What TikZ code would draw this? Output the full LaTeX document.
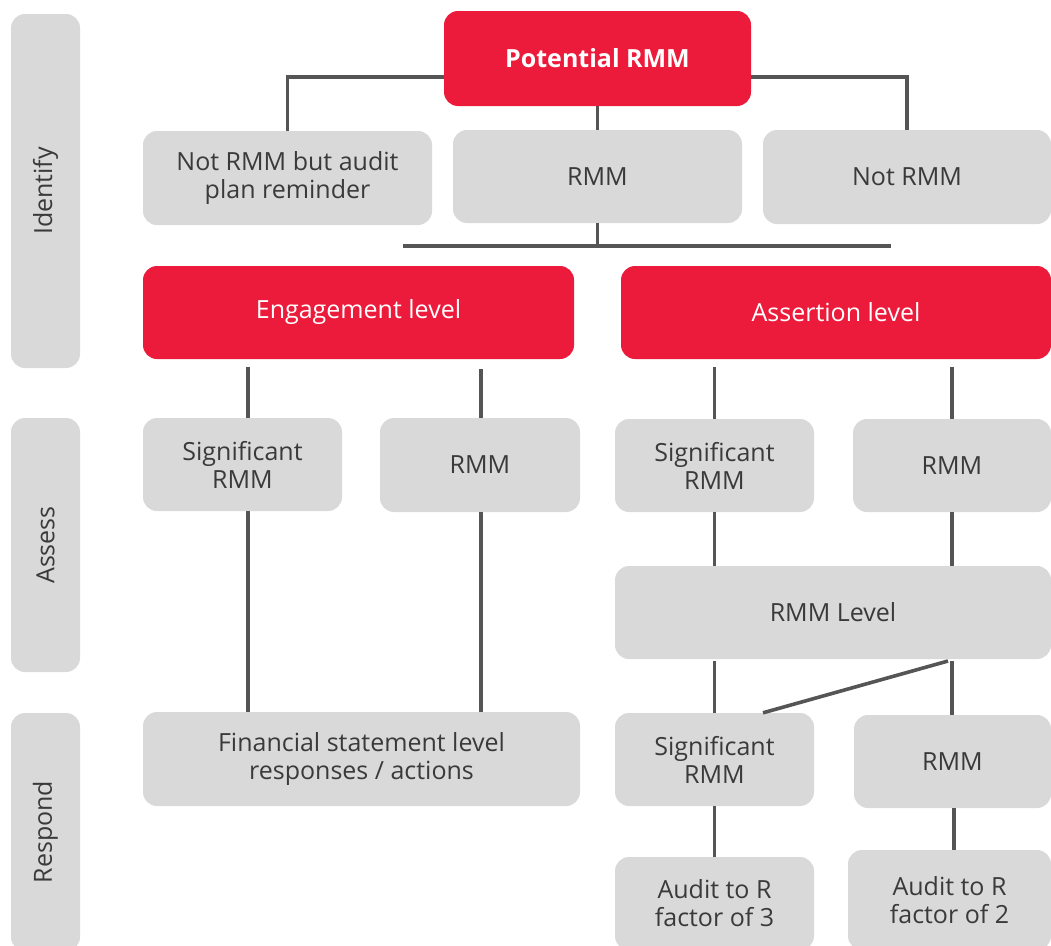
\documentclass[tikz,border=0pt]{standalone}
\usepackage{fontspec}
\setmainfont{Open Sans}
\usetikzlibrary{calc}
\definecolor{riskred}{HTML}{ED1B3B}
\definecolor{boxgray}{HTML}{D9D9D9}
\definecolor{inkgray}{HTML}{3A3A3A}
\definecolor{linegray}{HTML}{555555}
\tikzset{
  basebox/.style={rounded corners=14pt, inner sep=0pt, align=center,
    font=\fontsize{25}{28}\selectfont},
  graybox/.style={basebox, fill=boxgray, text=inkgray},
  redbox/.style={basebox, fill=riskred, text=white},
  phase/.style={graybox},
  link/.style={draw=linegray, line width=3.6pt}
}
\newcommand{\boxat}[6]{%
  \node[#1, minimum width=#4pt, minimum height=#5pt] (#2) at (#3) {#6};}
\begin{document}
\begin{tikzpicture}[x=1pt,y=-1pt]
\useasboundingbox (0,0) rectangle (1051,945);
\begin{scope}
\clip (0,0) rectangle (1051,945);
% phase bands on the left
\boxat{phase}{identify}{45.5,191}{69}{354}{\rotatebox{90}{Identify}}
\boxat{phase}{assess}{45.5,545}{69}{254}{\rotatebox{90}{Assess}}
\boxat{phase}{respond}{45.5,832}{69}{238}{\rotatebox{90}{Respond}}
% identify
\boxat{redbox}{pot}{597.5,58.5}{307}{95}{\bfseries Potential RMM}
\boxat{graybox}{nrm}{287.5,178}{289}{94}{Not RMM but audit\\plan reminder}
\boxat{graybox}{rmm}{597.5,176.5}{289}{93}{RMM}
\boxat{graybox}{notrmm}{907,177}{288}{94}{Not RMM}
% levels
\boxat{redbox}{eng}{358.5,312.5}{431}{93}{Engagement level}
\boxat{redbox}{asr}{836,312.5}{430}{93}{Assertion level}
% assess
\boxat{graybox}{sigE}{242.5,464.5}{199}{93}{Significant\\RMM}
\boxat{graybox}{rmmE}{480,465}{200}{94}{RMM}
\boxat{graybox}{sigA}{714.5,465.5}{199}{93}{Significant\\RMM}
\boxat{graybox}{rmmA}{952,465.5}{198}{93}{RMM}
\boxat{graybox}{lvl}{833,612.5}{436}{93}{RMM Level}
% respond
\boxat{graybox}{fin}{361.5,759}{437}{94}{Financial statement level\\responses / actions}
\boxat{graybox}{sigR}{714.5,759.5}{199}{93}{Significant\\RMM}
\boxat{graybox}{rmmR}{952.5,761.5}{197}{93}{RMM}
\boxat{graybox}{aud3}{714.5,903.5}{199}{93}{Audit to R\\factor of 3}
\boxat{graybox}{aud2}{949.5,900}{203}{100}{Audit to R\\factor of 2}
% connectors: identify
\draw[link] ([yshift=-18.5pt]pot.west) -| (nrm.north);
\draw[link] ([yshift=-18.5pt]pot.east) -| (notrmm.north);
\draw[link] (pot.south) -- (rmm.north);
\coordinate (barL) at (403,246);
\coordinate (barR) at (891,246);
\draw[link] (rmm.south) -- (rmm.south |- barL);
\draw[link] (barL) -- (barR);
% connectors: levels to assess
\draw[link] ([xshift=5.5pt,yshift=-8pt]sigE.north |- eng.south) -- ([xshift=5.5pt]sigE.north);
\draw[link] ([xshift=1pt,yshift=-10pt]rmmE.north |- eng.south) -- ([xshift=1pt]rmmE.north);
\draw[link] ([yshift=-8pt]sigA.north |- asr.south) -- (sigA.north);
\draw[link] ([yshift=-8pt]rmmA.north |- asr.south) -- (rmmA.north);
% connectors: assess to respond
\draw[link] ([xshift=5.5pt]sigE.south) -- ([xshift=5.5pt]sigE.south |- fin.north);
\draw[link] ([xshift=1pt]rmmE.south) -- ([xshift=1pt]rmmE.south |- fin.north);
\draw[link] (sigA.south) -- (sigA.south |- lvl.north);
\draw[link] (rmmA.south) -- (rmmA.south |- lvl.north);
\draw[link] ([yshift=-2pt]sigA.south |- lvl.south) -- (sigR.north);
\draw[link] ([yshift=-2pt]rmmA.south |- lvl.south) -- (rmmA.south |- rmmR.north);
\coordinate (diagTop) at (948,661);
\draw[link] (diagTop) -- ([xshift=48.5pt]sigR.north);
\draw[link] (sigR.south) -- (aud3.north);
\draw[link] ([xshift=1.5pt]rmmR.south) -- ([xshift=1.5pt]rmmR.south |- aud2.north);
\end{scope}
\end{tikzpicture}
\end{document}
